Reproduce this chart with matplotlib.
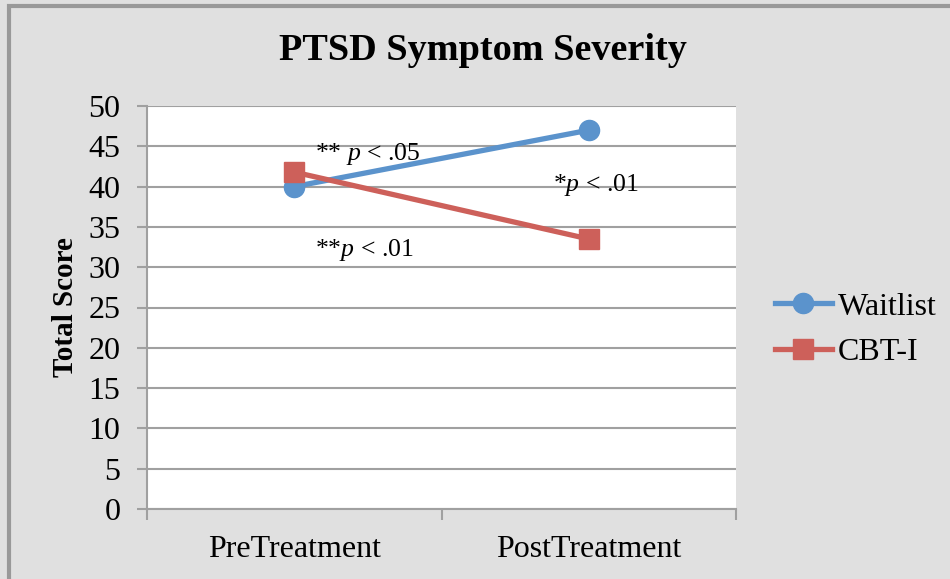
import matplotlib.pyplot as plt
from matplotlib.patches import Rectangle

plt.rcParams["font.family"] = ["Liberation Serif", "DejaVu Serif"]
plt.rcParams["mathtext.fontset"] = "custom"
plt.rcParams["mathtext.rm"] = "Liberation Serif"
plt.rcParams["mathtext.it"] = "Liberation Serif:italic"

phases = ["PreTreatment", "PostTreatment"]
waitlist = [40.0, 47.0]
cbti = [41.8, 33.5]
y_ticks = list(range(0, 55, 5))

# annotations: (text, x offset from category, y value)
notes = [
    ("** $p$ < .05", 0.07, 44.1),
    ("*$p$ < .01", 0.88, 40.2),
    ("**$p$ < .01", 0.07, 32.1),
]

bg = "#e0e0e0"
grid_col = "#a0a0a0"
blue = "#5b93cc"
red = "#cd605a"

W, H = 950, 579
fig = plt.figure(figsize=(9.5, 5.79), dpi=100, facecolor=bg)
fig.patches.append(Rectangle((8.5 / W, -0.1), 1.2, (H - 5.5) / H + 0.1,
                             transform=fig.transFigure, fill=False,
                             edgecolor="#999999", linewidth=3, zorder=0))

ax = fig.add_axes([147 / W, (H - 509) / H, (736 - 147) / W, (509 - 106) / H])
ax.set_facecolor("white")

x = [0.5, 1.5]
ax.plot(x, waitlist, color=blue, lw=3.8, marker="o", ms=14.5, label="Waitlist", zorder=3)
ax.plot(x, cbti, color=red, lw=3.8, marker="s", ms=14, label="CBT-I", zorder=3)

for txt, xo, yv in notes:
    ax.text(xo + 0.5, yv, txt, fontsize=18.5, ha="left", va="center", zorder=4)

ax.set_xlim(0, 2)
ax.set_ylim(0, 50)
ax.set_yticks(y_ticks)
ax.set_xticks([0, 1, 2])
ax.set_xticklabels([])
ax.set_xticks(x, minor=True)
ax.set_xticklabels(phases, minor=True, fontsize=23)
ax.tick_params(axis="x", which="minor", length=0, pad=19)
ax.tick_params(axis="x", which="major", length=8, width=1.5, color=grid_col, direction="out")
ax.tick_params(axis="y", length=7, width=1.5, color=grid_col, labelsize=23, pad=12)
ax.yaxis.grid(True, color=grid_col, lw=1.5)
ax.set_axisbelow(True)
for side in ["top", "right"]:
    ax.spines[side].set_visible(False)
for side in ["left", "bottom"]:
    ax.spines[side].set_color(grid_col)
    ax.spines[side].set_linewidth(1.5)

ax.set_ylabel("Total Score", fontsize=21, fontweight="bold", labelpad=7)
fig.text((277 + 688) / 2 / W, 1 - 50 / H, "PTSD Symptom Severity",
         fontsize=27.5, fontweight="bold", ha="center", va="center")

ax.legend(loc="center left", bbox_to_anchor=(1.0, 0.445), frameon=False,
          fontsize=23, handlelength=1.78, handletextpad=0.2, labelspacing=0.5,
          borderaxespad=0.82)

fig.savefig("out.png", dpi=100, facecolor=bg)
